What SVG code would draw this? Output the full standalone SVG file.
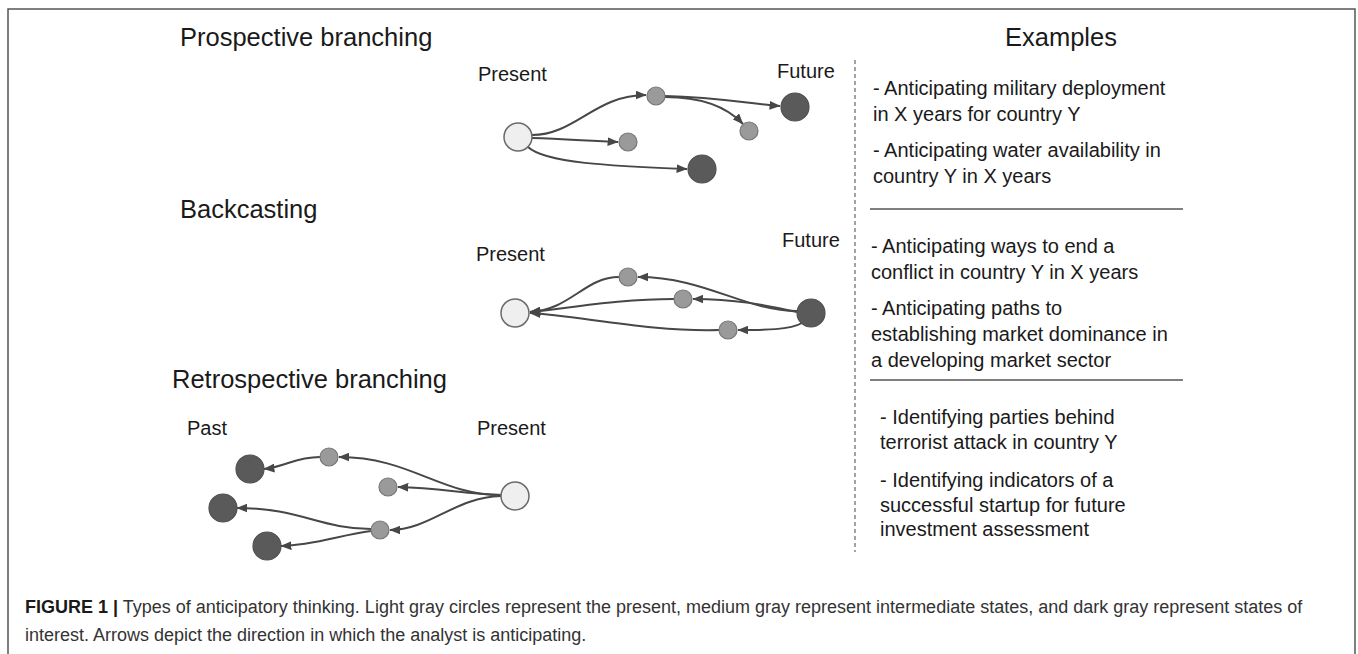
<svg xmlns="http://www.w3.org/2000/svg" width="1358" height="654" viewBox="0 0 1358 654">
<style>
text{font-family:"Liberation Sans",Arial,sans-serif;fill:#1a1a1a}
.h{font-size:25.5px}
.lb{font-size:20px}
.ex{font-size:20px}
.cap{font-size:18px;fill:#333}
.light{fill:#efefef;stroke:#6a6a6a;stroke-width:1.5}
.mid{fill:#9a9a9a;stroke:#777;stroke-width:1.2}
.dark{fill:#5a5a5a;stroke:#505050;stroke-width:1.2}
.e{fill:none;stroke:#474747;stroke-width:2;marker-end:url(#ah)}
.e0{fill:none;stroke:#474747;stroke-width:2}
</style>
<defs>
<marker id="ah" viewBox="0 0 10 8" refX="9.5" refY="4" markerWidth="11" markerHeight="9" markerUnits="userSpaceOnUse" orient="auto">
<path d="M0,0 L10,4 L0,8 z" fill="#474747"/>
</marker>
</defs>
<rect width="1358" height="654" fill="#fff"/>
<path d="M8,660 L8,9 L1355,9 L1355,660" fill="none" stroke="#555" stroke-width="1.5"/>

<g id="titles">
<text class="h" x="180" y="46">Prospective branching</text>
<text class="h" x="180" y="218">Backcasting</text>
<text class="h" x="172" y="388">Retrospective branching</text>
<text class="h" x="1005" y="46">Examples</text>
</g>

<g id="labels">
<text class="lb" x="478" y="81">Present</text>
<text class="lb" x="777" y="78">Future</text>
<text class="lb" x="476" y="261">Present</text>
<text class="lb" x="782" y="247">Future</text>
<text class="lb" x="187" y="435">Past</text>
<text class="lb" x="477" y="435">Present</text>
</g>

<g id="connectors">
<path class="e" d="M532,135 C575,135 595,95 646,95"/>
<path class="e" d="M532,138 C565,139 590,141 618,142"/>
<path class="e" d="M528,147 C545,163 610,166 687,169"/>
<path class="e" d="M665,96 C720,97 750,104 780,106"/>
<path class="e" d="M665,97 C705,97 728,108 743,124"/>

<path class="e" d="M797,311 C745,311 705,277 638,277"/>
<path class="e" d="M797,312 C765,305 735,299 693,299"/>
<path class="e" d="M802,323 C790,330 765,330 738,330"/>
<path class="e" d="M619,277 C585,277 570,310 530,312"/>
<path class="e" d="M674,299 C620,299 570,308 530,312"/>
<path class="e" d="M719,330 C650,332 580,316 530,313"/>

<path class="e" d="M501,495 C440,495 410,457 339,457"/>
<path class="e" d="M501,495 C465,494 440,488 398,487"/>
<path class="e" d="M501,496 C455,497 430,530 390,530"/>
<path class="e" d="M320,457 C295,457 285,467 264,469"/>
<path class="e" d="M371,529 C320,529 300,508 237,508"/>
<path class="e" d="M371,531 C340,535 315,545 281,546"/>
</g>

<g id="prospective-present"><circle class="light" cx="518" cy="137" r="14"/></g>
<g id="prospective-m1"><circle class="mid" cx="656" cy="96" r="9"/></g>
<g id="prospective-m2"><circle class="mid" cx="628" cy="142" r="9"/></g>
<g id="prospective-m3"><circle class="mid" cx="749" cy="131" r="9"/></g>
<g id="prospective-d1"><circle class="dark" cx="795" cy="107" r="14"/></g>
<g id="prospective-d2"><circle class="dark" cx="702" cy="169" r="14"/></g>

<g id="backcasting-present"><circle class="light" cx="515" cy="313" r="14"/></g>
<g id="backcasting-m1"><circle class="mid" cx="628" cy="277" r="9"/></g>
<g id="backcasting-m2"><circle class="mid" cx="683" cy="299" r="9"/></g>
<g id="backcasting-m3"><circle class="mid" cx="728" cy="330" r="9"/></g>
<g id="backcasting-future"><circle class="dark" cx="811" cy="313" r="14"/></g>

<g id="retro-present"><circle class="light" cx="515" cy="496" r="14"/></g>
<g id="retro-m1"><circle class="mid" cx="329" cy="457" r="9"/></g>
<g id="retro-m2"><circle class="mid" cx="388" cy="487" r="9"/></g>
<g id="retro-m3"><circle class="mid" cx="380" cy="530" r="9"/></g>
<g id="retro-d1"><circle class="dark" cx="250" cy="469" r="14"/></g>
<g id="retro-d2"><circle class="dark" cx="223" cy="508" r="14"/></g>
<g id="retro-d3"><circle class="dark" cx="267" cy="546" r="14"/></g>

<g id="examples">
<line x1="855" y1="60" x2="855" y2="552" stroke="#666" stroke-width="1.2" stroke-dasharray="4 3"/>
<line x1="870" y1="209" x2="1183" y2="209" stroke="#555" stroke-width="1.5"/>
<line x1="870" y1="380" x2="1183" y2="380" stroke="#555" stroke-width="1.5"/>
<text class="ex" x="873" y="95">- Anticipating military deployment</text>
<text class="ex" x="873" y="121">in X years for country Y</text>
<text class="ex" x="873" y="157">- Anticipating water availability in</text>
<text class="ex" x="873" y="183">country Y in X years</text>
<text class="ex" x="871" y="253">- Anticipating ways to end a</text>
<text class="ex" x="871" y="279">conflict in country Y in X years</text>
<text class="ex" x="871" y="315">- Anticipating paths to</text>
<text class="ex" x="871" y="341">establishing market dominance in</text>
<text class="ex" x="871" y="367">a developing market sector</text>
<text class="ex" x="880" y="424">- Identifying parties behind</text>
<text class="ex" x="880" y="449">terrorist attack in country Y</text>
<text class="ex" x="880" y="487">- Identifying indicators of a</text>
<text class="ex" x="880" y="512">successful startup for future</text>
<text class="ex" x="880" y="536">investment assessment</text>
</g>

<g id="caption">
<text class="cap" x="25" y="613"><tspan font-weight="bold" fill="#1a1a1a">FIGURE 1 |</tspan> Types of anticipatory thinking. Light gray circles represent the present, medium gray represent intermediate states, and dark gray represent states of</text>
<text class="cap" x="25" y="641">interest. Arrows depict the direction in which the analyst is anticipating.</text>
</g>
</svg>
